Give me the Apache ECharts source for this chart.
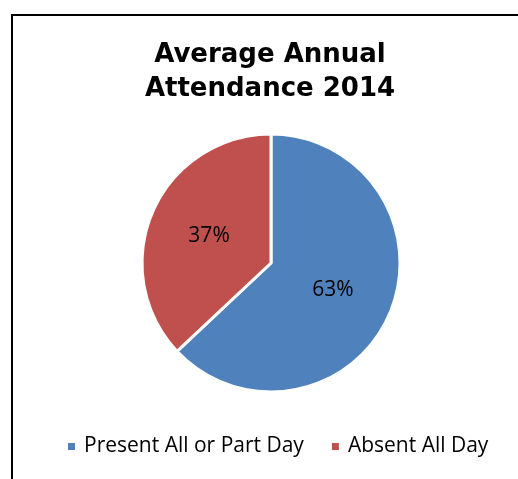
<!DOCTYPE html>
<html><head><meta charset="utf-8">
<script src="https://cdn.jsdelivr.net/npm/echarts@6/dist/echarts.min.js"></script>
<style>html,body{margin:0;padding:0;background:#fff}#c{width:518px;height:479px}</style>
</head><body><div id="c"></div>
<script>
var categories = ['Present All or Part Day', 'Absent All Day'];
var values = [63, 37];
var colors = ['#4F81BD', '#C0504D'];
var chart = echarts.init(document.getElementById('c'));
chart.setOption({
  animation: false,
  graphic: [{type: 'rect', shape: {x: 12, y: 15, width: 520, height: 480}, style: {fill: 'none', stroke: '#000', lineWidth: 2}, z: -1}],
  title: {
    text: 'Average Annual\nAttendance 2014',
    left: 265, top: 33, textAlign: 'center',
    textStyle: {fontFamily: 'DejaVu Sans', fontWeight: 'bold', fontSize: 26, lineHeight: 34, color: '#000'}
  },
  legend: {
    top: 431, left: 61, itemWidth: 9, itemHeight: 9, itemGap: 26, icon: 'rect',
    textStyle: {fontFamily: 'Open Sans', fontSize: 21, color: '#000', padding: [0, 0, 0, 3]},
    data: categories
  },
  series: [{
    type: 'pie', center: [271, 263], radius: 129, startAngle: 90, clockwise: true,
    itemStyle: {borderColor: '#fff', borderWidth: 3},
    label: {show: true, position: 'inside', formatter: '{d}%', fontFamily: 'Open Sans', fontSize: 21, color: '#000'},
    labelLine: {show: false},
    data: categories.map(function(n, i){ return {name: n, value: values[i], itemStyle: {color: colors[i]}}; })
  }]
});
</script></body></html>
